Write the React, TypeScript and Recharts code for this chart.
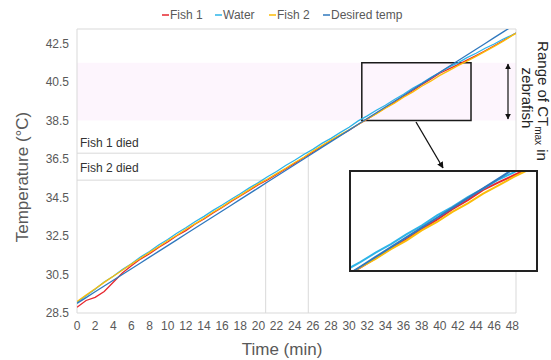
import { LineChart, Line, XAxis, YAxis, ReferenceArea, ReferenceLine } from "recharts";

const times = [
  0, 1, 2, 3, 4, 5, 6, 7, 8, 9, 10, 11, 12, 13, 14, 15, 16, 17, 18, 19, 20, 21, 22, 23, 24,
  25, 26, 27, 28, 29, 30, 31, 32, 33, 34, 35, 36, 37, 38, 39, 40, 41, 42, 43, 44, 45, 46, 47,
  48, 48.4,
];

const fish1 = [
  28.8, 29.15, 29.31, 29.62, 30.1, 30.58, 30.95, 31.3, 31.58, 31.91, 32.19, 32.51, 32.78,
  33.11, 33.38, 33.7, 33.98, 34.29, 34.58, 34.87, 35.16, 35.41, 35.7, 35.98, 36.27, 36.56,
  36.85, 37.16, 37.45, 37.72, 37.99, 38.29, 38.57, 38.86, 39.16, 39.44, 39.75, 40.04, 40.36,
  40.64, 40.95, 41.18, 41.4, 41.63, 41.87, 42.12, 42.38, 42.65, 42.94, 43.04,
];

const water = [
  29.05, 29.4, 29.73, 30.11, 30.41, 30.76, 31.06, 31.41, 31.69, 32.03, 32.32, 32.64, 32.93,
  33.24, 33.52, 33.83, 34.11, 34.41, 34.69, 35.0, 35.27, 35.58, 35.85, 36.16, 36.43, 36.73,
  37.0, 37.31, 37.57, 37.87, 38.15, 38.48, 38.74, 39.03, 39.29, 39.59, 39.86, 40.17, 40.43,
  40.73, 40.99, 41.27, 41.49, 41.76, 41.99, 42.25, 42.47, 42.73, 42.94, 43.04,
];

const fish2 = [
  29.1, 29.43, 29.76, 30.09, 30.41, 30.72, 31.04, 31.34, 31.65, 31.94, 32.25, 32.54, 32.85,
  33.13, 33.42, 33.73, 34.01, 34.33, 34.61, 34.91, 35.21, 35.46, 35.74, 36.02, 36.32, 36.59,
  36.91, 37.19, 37.48, 37.75, 38.02, 38.29, 38.58, 38.84, 39.14, 39.4, 39.71, 39.97, 40.28,
  40.54, 40.84, 41.09, 41.35, 41.58, 41.83, 42.09, 42.35, 42.62, 42.92, 43.02,
];

const desired = [
  29.0, 29.3, 29.6, 29.9, 30.2, 30.5, 30.8, 31.1, 31.4, 31.7, 32.0, 32.3, 32.6, 32.9, 33.2,
  33.5, 33.8, 34.1, 34.4, 34.7, 35.0, 35.3, 35.6, 35.9, 36.2, 36.5, 36.8, 37.1, 37.4, 37.7,
  38.0, 38.3, 38.6, 38.9, 39.2, 39.5, 39.8, 40.1, 40.4, 40.7, 41.0, 41.3, 41.6, 41.9, 42.2,
  42.5, 42.8, 43.1, 43.4, 43.52,
];

const xTicks = [0, 2, 4, 6, 8, 10, 12, 14, 16, 18, 20, 22, 24, 26, 28, 30, 32, 34, 36, 38, 40, 42, 44, 46, 48];
const yTicks = [28.5, 30.5, 32.5, 34.5, 36.5, 38.5, 40.5, 42.5];

// CTmax range and zoomed window
const ctMaxRange = [38.5, 41.5];
const zoomTime = [31.4, 43.44];
const fish1Died = { time: 25.5, temp: 36.8 };
const fish2Died = { time: 20.8, temp: 35.4 };

const series = [
  { key: "fish1", name: "Fish 1", color: "#e6262e" },
  { key: "water", name: "Water", color: "#2db4e8" },
  { key: "fish2", name: "Fish 2", color: "#fbbc09" },
  { key: "desired", name: "Desired temp", color: "#2f78be" },
];

const data = times.map((t, i) => ({
  time: t,
  fish1: fish1[i],
  water: water[i],
  fish2: fish2[i],
  desired: desired[i],
}));

const FONT = "'Liberation Sans', Arial, sans-serif";
const GRAY = "#d9d9d9";
const tickStyle = { fill: "#595959", fontSize: 12 };

export default function App() {
  return (
    <div style={{ position: "absolute", left: 0, top: 0, width: 551, height: 360, fontFamily: FONT, background: "#fff" }}>
      <LineChart width={551} height={360} data={data} margin={{ top: 29, right: 35, bottom: 0, left: 17 }}>
        <XAxis
          dataKey="time"
          type="number"
          domain={[0, 48.4]}
          ticks={xTicks}
          interval={0}
          allowDataOverflow
          tickLine={false}
          axisLine={false}
          tick={tickStyle}
          height={47}
        />
        <YAxis
          type="number"
          domain={[28.5, 43.25]}
          ticks={yTicks}
          allowDataOverflow
          tickLine={false}
          axisLine={false}
          tick={tickStyle}
          width={60}
        />
        <ReferenceArea y1={ctMaxRange[0]} y2={ctMaxRange[1]} fill="#fdf5fd" fillOpacity={1} stroke="none" />
        <ReferenceArea x1={0} x2={48.4} y1={28.5} y2={43.25} fill="none" stroke={GRAY} />
        <ReferenceLine segment={[{ x: 0, y: fish1Died.temp }, { x: fish1Died.time, y: fish1Died.temp }]} stroke={GRAY} />
        <ReferenceLine segment={[{ x: fish1Died.time, y: 28.5 }, { x: fish1Died.time, y: fish1Died.temp }]} stroke={GRAY} />
        <ReferenceLine segment={[{ x: 0, y: fish2Died.temp }, { x: fish2Died.time, y: fish2Died.temp }]} stroke={GRAY} />
        <ReferenceLine segment={[{ x: fish2Died.time, y: 28.5 }, { x: fish2Died.time, y: fish2Died.temp }]} stroke={GRAY} />
        {series.map((s) => (
          <Line
            key={s.key}
            dataKey={s.key}
            name={s.name}
            type="linear"
            stroke={s.color}
            strokeWidth={1.3}
            dot={false}
            isAnimationActive={false}
          />
        ))}
        <ReferenceArea
          x1={zoomTime[0]}
          x2={zoomTime[1]}
          y1={ctMaxRange[0]}
          y2={ctMaxRange[1]}
          fill="none"
          stroke="#1a1a1a"
          strokeWidth={1.5}
        />
      </LineChart>

      <svg width={551} height={360} style={{ position: "absolute", left: 0, top: 0, pointerEvents: "none", fontFamily: FONT }}>
        <defs>
          <marker id="ah" viewBox="0 0 10 10" refX={9} refY={5} markerWidth={5} markerHeight={5} orient="auto-start-reverse">
            <path d="M0,0 L10,5 L0,10 z" fill="#111" />
          </marker>
        </defs>
        {/* legend */}
        {series.map((s, i) => {
          const x0 = [162, 215, 269, 323][i];
          return (
            <g key={s.key}>
              <line x1={x0} x2={x0 + 7} y1={15} y2={15} stroke={s.color} strokeWidth={1.5} />
              <text x={x0 + 8} y={19} fontSize={12} fill="#595959">{s.name}</text>
            </g>
          );
        })}
        <text transform="translate(22,177) rotate(-90)" textAnchor="middle" dominantBaseline="central" fontSize={17} fill="#595959">
          Temperature (°C)
        </text>
        <text x={282} y={355} textAnchor="middle" fontSize={17} fill="#595959">Time (min)</text>
        <text x={80} y={147} fontSize={12} fill="#333">Fish 1 died</text>
        <text x={80} y={172} fontSize={12} fill="#333">Fish 2 died</text>
        <text transform="translate(543,101) rotate(90)" textAnchor="middle" dominantBaseline="central" fontSize={15} fill="#262626">
          Range of CT<tspan dy={4} fontSize={10}>max</tspan><tspan dy={-4}> in</tspan>
        </text>
        <text transform="translate(527,98) rotate(90)" textAnchor="middle" dominantBaseline="central" fontSize={15} fill="#262626">
          zebrafish
        </text>
        <line x1={508} x2={508} y1={64} y2={119} stroke="#111" strokeWidth={1.2} markerStart="url(#ah)" markerEnd="url(#ah)" />
        <line x1={416} y1={122} x2={443} y2={168} stroke="#111" strokeWidth={1.3} markerEnd="url(#ah)" />
      </svg>

      <div style={{ position: "absolute", left: 349, top: 170, width: 185, height: 98, border: "2px solid #222", background: "#fff" }}>
        <LineChart width={185} height={98} data={data} margin={{ top: 0, right: 0, bottom: 0, left: 0 }}>
          <XAxis dataKey="time" type="number" domain={zoomTime} allowDataOverflow hide />
          <YAxis type="number" domain={ctMaxRange} allowDataOverflow hide />
          {series.map((s) => (
            <Line
              key={s.key}
              dataKey={s.key}
              type="linear"
              stroke={s.color}
              strokeWidth={2}
              dot={false}
              isAnimationActive={false}
            />
          ))}
        </LineChart>
      </div>
    </div>
  );
}
